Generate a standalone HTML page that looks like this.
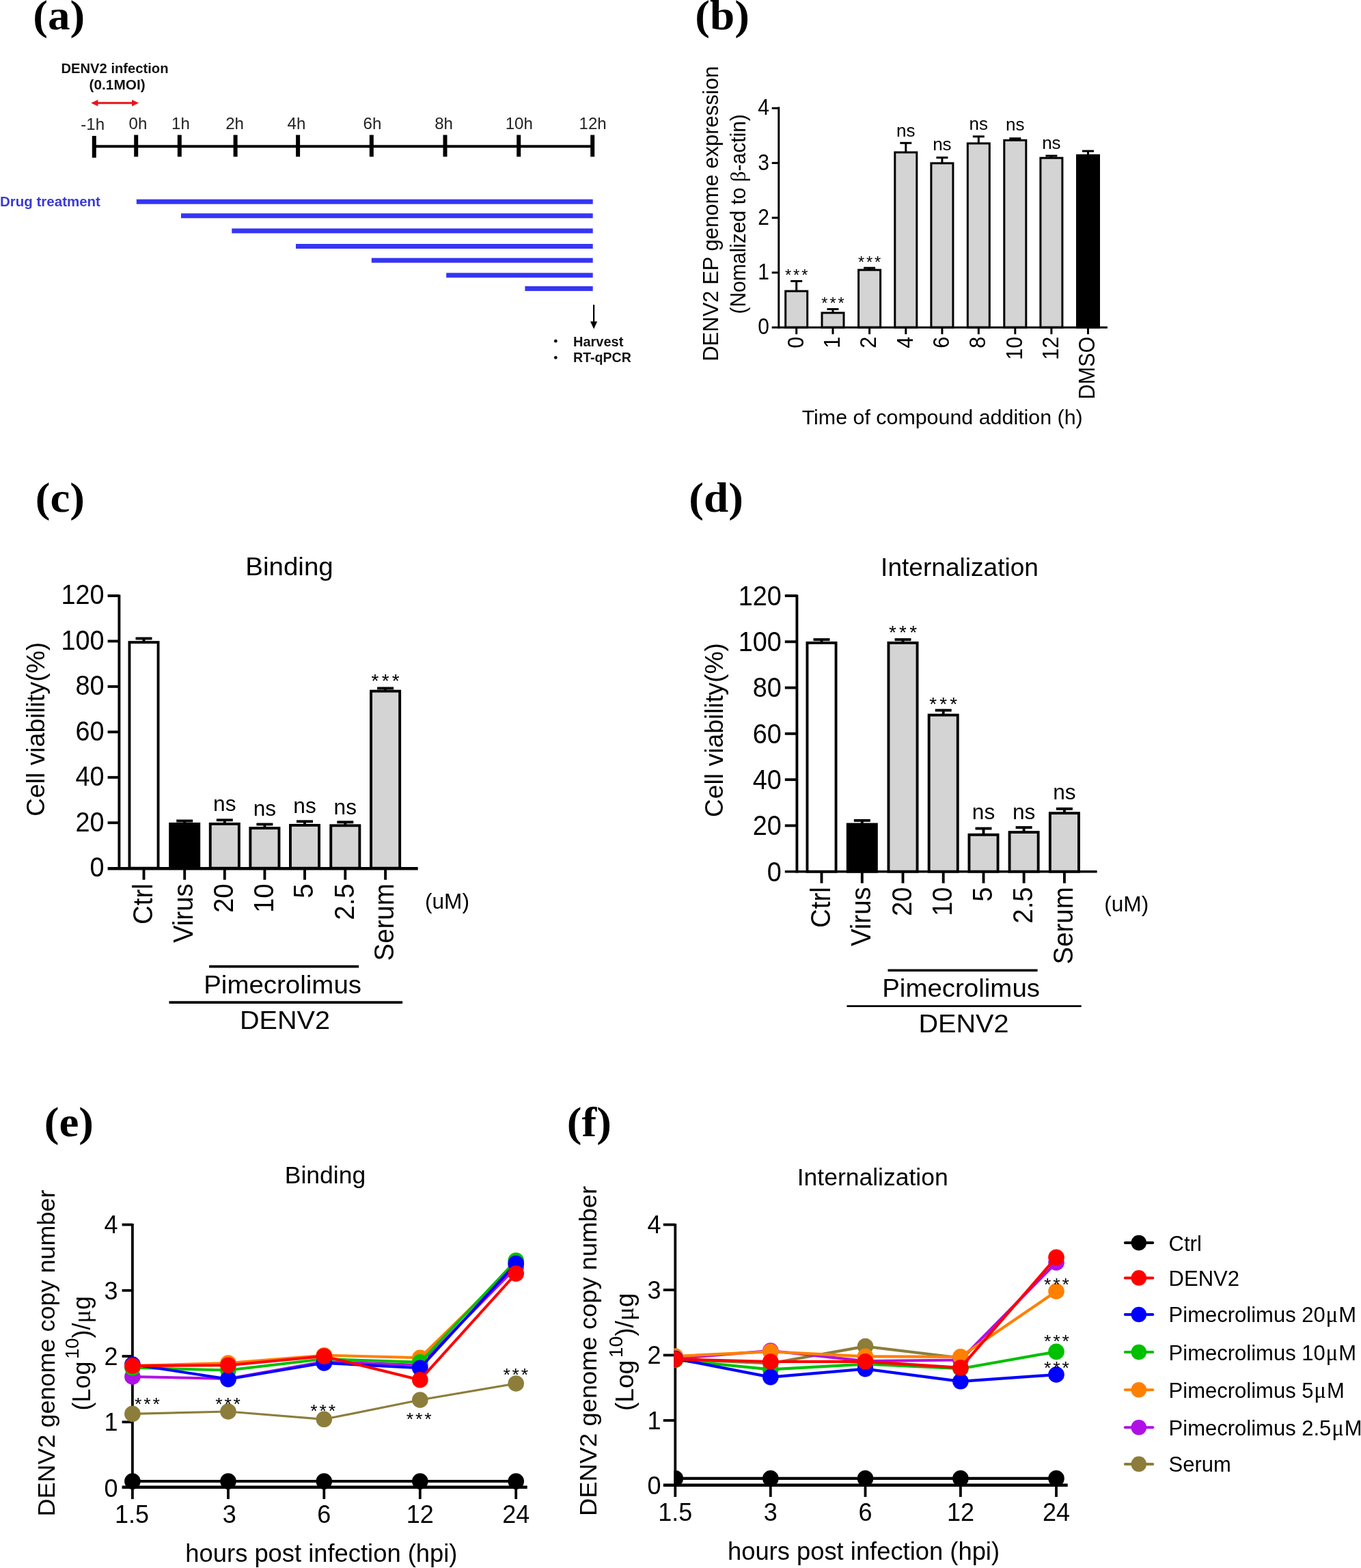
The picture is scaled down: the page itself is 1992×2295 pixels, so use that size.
<!DOCTYPE html>
<html lang="en">
<head>
<meta charset="utf-8">
<title>Pimecrolimus time-of-addition, binding and internalization assays</title>
<style>
html, body { margin: 0; padding: 0; background: #fff; }
body { width: 1992px; height: 2295px; overflow: hidden; }
svg { display: block; font-family: "Liberation Sans", sans-serif; fill: #000; }
</style>
</head>
<body>
<svg width="1992" height="2295" viewBox="0 0 1992 2295" role="img" aria-label="Six-panel figure: time-of-addition, binding and internalization assays">
<rect width="1992" height="2295" fill="#fff"/>
<g id="panel-a">
<text font-size="62" transform="translate(48.3 42.6) scale(1.05 1)" font-weight="bold" style='font-family:"Liberation Serif", serif;'>(a)</text>
<text font-size="20.2" text-anchor="middle" x="168" y="106.6" font-weight="bold" style='fill:#111;'>DENV2 infection</text>
<text font-size="20.8" text-anchor="middle" x="171.6" y="130.8" font-weight="bold" style='fill:#111;'>(0.1MOI)</text>
<line x1="140" y1="150.7" x2="197" y2="150.7" stroke="#e8141c" stroke-width="3"/>
<polygon points="133.2,150.7 143.4,146 143.4,155.4" fill="#e8141c"/>
<polygon points="203.2,150.7 193,146 193,155.4" fill="#e8141c"/>
<line x1="137.8" y1="214.3" x2="867.2" y2="214.3" stroke="#000" stroke-width="4"/>
<line x1="137.8" y1="198.9" x2="137.8" y2="230.8" stroke="#000" stroke-width="6"/>
<line x1="199.2" y1="197.5" x2="199.2" y2="229.4" stroke="#000" stroke-width="6"/>
<line x1="262.8" y1="197.5" x2="262.8" y2="229.4" stroke="#000" stroke-width="6"/>
<line x1="344.6" y1="197.5" x2="344.6" y2="229.4" stroke="#000" stroke-width="6"/>
<line x1="436.1" y1="197.5" x2="436.1" y2="229.4" stroke="#000" stroke-width="6"/>
<line x1="543.8" y1="197.5" x2="543.8" y2="229.4" stroke="#000" stroke-width="6"/>
<line x1="651.5" y1="197.5" x2="651.5" y2="229.4" stroke="#000" stroke-width="6"/>
<line x1="759.2" y1="197.5" x2="759.2" y2="229.4" stroke="#000" stroke-width="6"/>
<line x1="867.2" y1="197.5" x2="867.2" y2="229.4" stroke="#000" stroke-width="6"/>
<text font-size="23.4" text-anchor="middle" transform="translate(135.7 190.4) scale(1.03 1)" style='fill:#222;'>-1h</text>
<text font-size="23.4" text-anchor="middle" transform="translate(202 189.4) scale(1.03 1)" style='fill:#222;'>0h</text>
<text font-size="23.4" text-anchor="middle" transform="translate(264.4 189.4) scale(1.03 1)" style='fill:#222;'>1h</text>
<text font-size="23.4" text-anchor="middle" transform="translate(343.6 189.4) scale(1.03 1)" style='fill:#222;'>2h</text>
<text font-size="23.4" text-anchor="middle" transform="translate(433.9 189.4) scale(1.03 1)" style='fill:#222;'>4h</text>
<text font-size="23.4" text-anchor="middle" transform="translate(544.9 189.4) scale(1.03 1)" style='fill:#222;'>6h</text>
<text font-size="23.4" text-anchor="middle" transform="translate(649.6 189.4) scale(1.03 1)" style='fill:#222;'>8h</text>
<text font-size="23.4" text-anchor="middle" transform="translate(759.8 189.4) scale(1.03 1)" style='fill:#222;'>10h</text>
<text font-size="23.4" text-anchor="middle" transform="translate(867.6 189.4) scale(1.03 1)" style='fill:#222;'>12h</text>
<text font-size="20.5" x="0" y="301.6" font-weight="bold" style='fill:#3a3ad8;'>Drug treatment</text>
<rect x="199.8" y="291.7" width="667.9" height="7" fill="#3535f5"/>
<rect x="265" y="312.3" width="602.7" height="7" fill="#3535f5"/>
<rect x="339.3" y="334.4" width="528.4" height="7" fill="#3535f5"/>
<rect x="433" y="357" width="434.7" height="7" fill="#3535f5"/>
<rect x="543.8" y="377.6" width="323.9" height="7" fill="#3535f5"/>
<rect x="653.2" y="399.4" width="214.5" height="7" fill="#3535f5"/>
<rect x="768.4" y="418.9" width="99.3" height="7" fill="#3535f5"/>
<line x1="869.1" y1="446" x2="869.1" y2="474" stroke="#000" stroke-width="2.2"/>
<polygon points="869.1,481.6 864,470.5 874.2,470.5" fill="#000"/>
<circle cx="813.3" cy="499.2" r="2.4" fill="#111"/>
<circle cx="813.3" cy="523.4" r="2.4" fill="#111"/>
<text font-size="20" x="839" y="506.7" font-weight="bold" style='fill:#111;'>Harvest</text>
<text font-size="19.6" x="839" y="530.4" font-weight="bold" style='fill:#111;'>RT-qPCR</text>
</g>
<g id="panel-b">
<text font-size="62" transform="translate(1017.3 42.6) scale(1.05 1)" font-weight="bold" style='font-family:"Liberation Serif", serif;'>(b)</text>
<text font-size="31" text-anchor="middle" x="1051" y="312.8" transform="rotate(-90 1051 312.8)">DENV2 EP genome expression</text>
<text font-size="30" text-anchor="middle" transform="translate(1091.2 313.4) rotate(-90) scale(1 1.04)">(Nomalized to <tspan font-size="31" style='font-family:"Liberation Serif", serif'>β</tspan>-actin)</text>
<line x1="1165.7" y1="411.5" x2="1165.7" y2="426.1" stroke="#000" stroke-width="3"/>
<line x1="1157.2" y1="411.5" x2="1174.2" y2="411.5" stroke="#000" stroke-width="3"/>
<rect x="1149.7" y="426.1" width="32" height="53.1" fill="#d4d4d4" stroke="#000" stroke-width="3"/>
<line x1="1165.7" y1="479.2" x2="1165.7" y2="489.2" stroke="#000" stroke-width="3"/>
<text font-size="30.6" text-anchor="end" transform="translate(1175.5 492.8) rotate(-90) scale(1 1.1)">0</text>
<text font-size="23.6" text-anchor="middle" x="1167.15" y="410.51" style='letter-spacing:2.9px;'>***</text>
<line x1="1219" y1="452.5" x2="1219" y2="457.9" stroke="#000" stroke-width="3"/>
<line x1="1210.5" y1="452.5" x2="1227.5" y2="452.5" stroke="#000" stroke-width="3"/>
<rect x="1203" y="457.9" width="32" height="21.3" fill="#d4d4d4" stroke="#000" stroke-width="3"/>
<line x1="1219" y1="479.2" x2="1219" y2="489.2" stroke="#000" stroke-width="3"/>
<text font-size="30.6" text-anchor="end" transform="translate(1228.8 492.8) rotate(-90) scale(1 1.1)">1</text>
<text font-size="23.6" text-anchor="middle" x="1220.45" y="451.51" style='letter-spacing:2.9px;'>***</text>
<line x1="1272.6" y1="392.2" x2="1272.6" y2="395.1" stroke="#000" stroke-width="3"/>
<line x1="1264.1" y1="392.2" x2="1281.1" y2="392.2" stroke="#000" stroke-width="3"/>
<rect x="1256.6" y="395.1" width="32" height="84.1" fill="#d4d4d4" stroke="#000" stroke-width="3"/>
<line x1="1272.6" y1="479.2" x2="1272.6" y2="489.2" stroke="#000" stroke-width="3"/>
<text font-size="30.6" text-anchor="end" transform="translate(1282.4 492.8) rotate(-90) scale(1 1.1)">2</text>
<text font-size="23.6" text-anchor="middle" x="1274.05" y="391.61" style='letter-spacing:2.9px;'>***</text>
<line x1="1325.8" y1="209.3" x2="1325.8" y2="223" stroke="#000" stroke-width="3"/>
<line x1="1317.3" y1="209.3" x2="1334.3" y2="209.3" stroke="#000" stroke-width="3"/>
<rect x="1309.8" y="223" width="32" height="256.2" fill="#d4d4d4" stroke="#000" stroke-width="3"/>
<line x1="1325.8" y1="479.2" x2="1325.8" y2="489.2" stroke="#000" stroke-width="3"/>
<text font-size="30.6" text-anchor="end" transform="translate(1335.6 492.8) rotate(-90) scale(1 1.1)">4</text>
<text font-size="26" text-anchor="middle" x="1325.8" y="200">ns</text>
<line x1="1378.9" y1="230.7" x2="1378.9" y2="238.9" stroke="#000" stroke-width="3"/>
<line x1="1370.4" y1="230.7" x2="1387.4" y2="230.7" stroke="#000" stroke-width="3"/>
<rect x="1362.9" y="238.9" width="32" height="240.3" fill="#d4d4d4" stroke="#000" stroke-width="3"/>
<line x1="1378.9" y1="479.2" x2="1378.9" y2="489.2" stroke="#000" stroke-width="3"/>
<text font-size="30.6" text-anchor="end" transform="translate(1388.7 492.8) rotate(-90) scale(1 1.1)">6</text>
<text font-size="26" text-anchor="middle" x="1378.9" y="219.9">ns</text>
<line x1="1432.3" y1="199.8" x2="1432.3" y2="209.9" stroke="#000" stroke-width="3"/>
<line x1="1423.8" y1="199.8" x2="1440.8" y2="199.8" stroke="#000" stroke-width="3"/>
<rect x="1416.3" y="209.9" width="32" height="269.3" fill="#d4d4d4" stroke="#000" stroke-width="3"/>
<line x1="1432.3" y1="479.2" x2="1432.3" y2="489.2" stroke="#000" stroke-width="3"/>
<text font-size="30.6" text-anchor="end" transform="translate(1442.1 492.8) rotate(-90) scale(1 1.1)">8</text>
<text font-size="26" text-anchor="middle" x="1432.3" y="189.7">ns</text>
<line x1="1485.8" y1="202.7" x2="1485.8" y2="205.3" stroke="#000" stroke-width="3"/>
<line x1="1477.3" y1="202.7" x2="1494.3" y2="202.7" stroke="#000" stroke-width="3"/>
<rect x="1469.8" y="205.3" width="32" height="273.9" fill="#d4d4d4" stroke="#000" stroke-width="3"/>
<line x1="1485.8" y1="479.2" x2="1485.8" y2="489.2" stroke="#000" stroke-width="3"/>
<text font-size="30.6" text-anchor="end" transform="translate(1495.6 492.8) rotate(-90) scale(1 1.1)">10</text>
<text font-size="26" text-anchor="middle" x="1485.8" y="191.2">ns</text>
<line x1="1538.9" y1="228.1" x2="1538.9" y2="231.2" stroke="#000" stroke-width="3"/>
<line x1="1530.4" y1="228.1" x2="1547.4" y2="228.1" stroke="#000" stroke-width="3"/>
<rect x="1522.9" y="231.2" width="32" height="248" fill="#d4d4d4" stroke="#000" stroke-width="3"/>
<line x1="1538.9" y1="479.2" x2="1538.9" y2="489.2" stroke="#000" stroke-width="3"/>
<text font-size="30.6" text-anchor="end" transform="translate(1548.7 492.8) rotate(-90) scale(1 1.1)">12</text>
<text font-size="26" text-anchor="middle" x="1538.9" y="217.7">ns</text>
<line x1="1592.5" y1="221.1" x2="1592.5" y2="227.3" stroke="#000" stroke-width="3"/>
<line x1="1584" y1="221.1" x2="1601" y2="221.1" stroke="#000" stroke-width="3"/>
<rect x="1576.5" y="227.3" width="32" height="251.9" fill="#000" stroke="#000" stroke-width="3"/>
<line x1="1592.5" y1="479.2" x2="1592.5" y2="489.2" stroke="#000" stroke-width="3"/>
<text font-size="30.6" text-anchor="end" transform="translate(1602.3 492.8) rotate(-90) scale(1 1.1)">DMSO</text>
<line x1="1139.8" y1="156.6" x2="1139.8" y2="480.8" stroke="#000" stroke-width="3"/>
<line x1="1129.7" y1="479.2" x2="1620.9" y2="479.2" stroke="#000" stroke-width="3"/>
<text font-size="30" text-anchor="end" transform="translate(1126 489.2) scale(1 1.11)">0</text>
<line x1="1129.7" y1="399" x2="1139.8" y2="399" stroke="#000" stroke-width="3"/>
<text font-size="30" text-anchor="end" transform="translate(1126 409) scale(1 1.11)">1</text>
<line x1="1129.7" y1="318.8" x2="1139.8" y2="318.8" stroke="#000" stroke-width="3"/>
<text font-size="30" text-anchor="end" transform="translate(1126 328.8) scale(1 1.11)">2</text>
<line x1="1129.7" y1="238.6" x2="1139.8" y2="238.6" stroke="#000" stroke-width="3"/>
<text font-size="30" text-anchor="end" transform="translate(1126 248.6) scale(1 1.11)">3</text>
<line x1="1129.7" y1="158.4" x2="1139.8" y2="158.4" stroke="#000" stroke-width="3"/>
<text font-size="30" text-anchor="end" transform="translate(1126 168.4) scale(1 1.11)">4</text>
<text font-size="30.4" text-anchor="middle" x="1379.2" y="620.6">Time of compound addition (h)</text>
</g>
<g id="panel-c">
<text font-size="62" transform="translate(51.8 748.6) scale(1.05 1)" font-weight="bold" style='font-family:"Liberation Serif", serif;'>(c)</text>
<text font-size="36" text-anchor="middle" transform="translate(423.5 841.8) scale(1.07 1)">Binding</text>
<text font-size="37" text-anchor="middle" transform="translate(65.4 1067.4) rotate(-90) scale(1.01 1)">Cell viability(%)</text>
<line x1="210.5" y1="934.5" x2="210.5" y2="940.1" stroke="#000" stroke-width="3.9"/>
<line x1="198.5" y1="934.5" x2="222.5" y2="934.5" stroke="#000" stroke-width="3.9"/>
<rect x="189.45" y="940.1" width="42.1" height="330.6" fill="#fff" stroke="#000" stroke-width="3.9"/>
<line x1="210.5" y1="1270.7" x2="210.5" y2="1287.7" stroke="#000" stroke-width="3.9"/>
<text font-size="38.4" text-anchor="end" transform="translate(222.7 1293.3) rotate(-90) scale(1 1.05)">Ctrl</text>
<line x1="270.2" y1="1201.5" x2="270.2" y2="1205.9" stroke="#000" stroke-width="3.9"/>
<line x1="258.2" y1="1201.5" x2="282.2" y2="1201.5" stroke="#000" stroke-width="3.9"/>
<rect x="249.15" y="1205.9" width="42.1" height="64.8" fill="#000" stroke="#000" stroke-width="3.9"/>
<line x1="270.2" y1="1270.7" x2="270.2" y2="1287.7" stroke="#000" stroke-width="3.9"/>
<text font-size="38.4" text-anchor="end" transform="translate(282.4 1293.3) rotate(-90) scale(1 1.05)">Virus</text>
<line x1="328.8" y1="1200.3" x2="328.8" y2="1205.9" stroke="#000" stroke-width="3.9"/>
<line x1="316.8" y1="1200.3" x2="340.8" y2="1200.3" stroke="#000" stroke-width="3.9"/>
<rect x="307.75" y="1205.9" width="42.1" height="64.8" fill="#d4d4d4" stroke="#000" stroke-width="3.9"/>
<line x1="328.8" y1="1270.7" x2="328.8" y2="1287.7" stroke="#000" stroke-width="3.9"/>
<text font-size="38.4" text-anchor="end" transform="translate(341 1293.3) rotate(-90) scale(1 1.05)">20</text>
<text font-size="31" text-anchor="middle" transform="translate(328.8 1187) scale(1.02 1)">ns</text>
<line x1="387.4" y1="1206.5" x2="387.4" y2="1212.1" stroke="#000" stroke-width="3.9"/>
<line x1="375.4" y1="1206.5" x2="399.4" y2="1206.5" stroke="#000" stroke-width="3.9"/>
<rect x="366.35" y="1212.1" width="42.1" height="58.6" fill="#d4d4d4" stroke="#000" stroke-width="3.9"/>
<line x1="387.4" y1="1270.7" x2="387.4" y2="1287.7" stroke="#000" stroke-width="3.9"/>
<text font-size="38.4" text-anchor="end" transform="translate(399.6 1293.3) rotate(-90) scale(1 1.05)">10</text>
<text font-size="31" text-anchor="middle" transform="translate(387.4 1193.9) scale(1.02 1)">ns</text>
<line x1="446" y1="1202.3" x2="446" y2="1207.9" stroke="#000" stroke-width="3.9"/>
<line x1="434" y1="1202.3" x2="458" y2="1202.3" stroke="#000" stroke-width="3.9"/>
<rect x="424.95" y="1207.9" width="42.1" height="62.8" fill="#d4d4d4" stroke="#000" stroke-width="3.9"/>
<line x1="446" y1="1270.7" x2="446" y2="1287.7" stroke="#000" stroke-width="3.9"/>
<text font-size="38.4" text-anchor="end" transform="translate(458.2 1293.3) rotate(-90) scale(1 1.05)">5</text>
<text font-size="31" text-anchor="middle" transform="translate(446 1189.7) scale(1.02 1)">ns</text>
<line x1="505.3" y1="1203.3" x2="505.3" y2="1208.3" stroke="#000" stroke-width="3.9"/>
<line x1="493.3" y1="1203.3" x2="517.3" y2="1203.3" stroke="#000" stroke-width="3.9"/>
<rect x="484.25" y="1208.3" width="42.1" height="62.4" fill="#d4d4d4" stroke="#000" stroke-width="3.9"/>
<line x1="505.3" y1="1270.7" x2="505.3" y2="1287.7" stroke="#000" stroke-width="3.9"/>
<text font-size="38.4" text-anchor="end" transform="translate(517.5 1293.3) rotate(-90) scale(1 1.05)">2.5</text>
<text font-size="31" text-anchor="middle" transform="translate(505.3 1191.6) scale(1.02 1)">ns</text>
<line x1="564.1" y1="1007.4" x2="564.1" y2="1011.6" stroke="#000" stroke-width="3.9"/>
<line x1="552.1" y1="1007.4" x2="576.1" y2="1007.4" stroke="#000" stroke-width="3.9"/>
<rect x="543.05" y="1011.6" width="42.1" height="259.1" fill="#d4d4d4" stroke="#000" stroke-width="3.9"/>
<line x1="564.1" y1="1270.7" x2="564.1" y2="1287.7" stroke="#000" stroke-width="3.9"/>
<text font-size="38.4" text-anchor="end" transform="translate(576.3 1293.3) rotate(-90) scale(1 1.05)">Serum</text>
<text font-size="28" text-anchor="middle" x="566.2" y="1005.86" style='letter-spacing:4.2px;'>***</text>
<line x1="174.4" y1="870.4" x2="174.4" y2="1272.5" stroke="#000" stroke-width="3.9"/>
<line x1="157.6" y1="1271.2" x2="611.7" y2="1271.2" stroke="#000" stroke-width="4.4"/>
<text font-size="39" text-anchor="end" transform="translate(152.6 1283.1) scale(0.97 1.03)">0</text>
<line x1="157.6" y1="1204.25" x2="174.4" y2="1204.25" stroke="#000" stroke-width="3.9"/>
<text font-size="39" text-anchor="end" transform="translate(152.6 1216.65) scale(0.97 1.03)">20</text>
<line x1="157.6" y1="1137.8" x2="174.4" y2="1137.8" stroke="#000" stroke-width="3.9"/>
<text font-size="39" text-anchor="end" transform="translate(152.6 1150.2) scale(0.97 1.03)">40</text>
<line x1="157.6" y1="1071.35" x2="174.4" y2="1071.35" stroke="#000" stroke-width="3.9"/>
<text font-size="39" text-anchor="end" transform="translate(152.6 1083.75) scale(0.97 1.03)">60</text>
<line x1="157.6" y1="1004.9" x2="174.4" y2="1004.9" stroke="#000" stroke-width="3.9"/>
<text font-size="39" text-anchor="end" transform="translate(152.6 1017.3) scale(0.97 1.03)">80</text>
<line x1="157.6" y1="938.45" x2="174.4" y2="938.45" stroke="#000" stroke-width="3.9"/>
<text font-size="39" text-anchor="end" transform="translate(152.6 950.85) scale(0.97 1.03)">100</text>
<line x1="157.6" y1="872" x2="174.4" y2="872" stroke="#000" stroke-width="3.9"/>
<text font-size="39" text-anchor="end" transform="translate(152.6 884.4) scale(0.97 1.03)">120</text>
<text font-size="31" transform="translate(622 1329.6) scale(1.02 1)">(uM)</text>
<line x1="306.1" y1="1414.6" x2="525.2" y2="1414.6" stroke="#000" stroke-width="3.6"/>
<text font-size="37" text-anchor="middle" transform="translate(413.6 1453.7) scale(1.04 1)">Pimecrolimus</text>
<line x1="247.5" y1="1467.1" x2="589.1" y2="1467.1" stroke="#000" stroke-width="3.6"/>
<text font-size="37" text-anchor="middle" transform="translate(417 1506.1) scale(1.07 1)">DENV2</text>
</g>
<g id="panel-d">
<text font-size="62" transform="translate(1008.3 748.6) scale(1.05 1)" font-weight="bold" style='font-family:"Liberation Serif", serif;'>(d)</text>
<text font-size="36" text-anchor="middle" transform="translate(1404.5 843.2) scale(1.03 1)">Internalization</text>
<text font-size="37" text-anchor="middle" transform="translate(1057.8 1068.6) rotate(-90) scale(1.01 1)">Cell viability(%)</text>
<line x1="1202.5" y1="936.1" x2="1202.5" y2="940.9" stroke="#000" stroke-width="3.9"/>
<line x1="1190.5" y1="936.1" x2="1214.5" y2="936.1" stroke="#000" stroke-width="3.9"/>
<rect x="1181.45" y="940.9" width="42.1" height="334.8" fill="#fff" stroke="#000" stroke-width="3.9"/>
<line x1="1202.5" y1="1275.7" x2="1202.5" y2="1292.7" stroke="#000" stroke-width="3.9"/>
<text font-size="38.4" text-anchor="end" transform="translate(1214.7 1298.3) rotate(-90) scale(1 1.05)">Ctrl</text>
<line x1="1261.8" y1="1200.9" x2="1261.8" y2="1206.5" stroke="#000" stroke-width="3.9"/>
<line x1="1249.8" y1="1200.9" x2="1273.8" y2="1200.9" stroke="#000" stroke-width="3.9"/>
<rect x="1240.75" y="1206.5" width="42.1" height="69.2" fill="#000" stroke="#000" stroke-width="3.9"/>
<line x1="1261.8" y1="1275.7" x2="1261.8" y2="1292.7" stroke="#000" stroke-width="3.9"/>
<text font-size="38.4" text-anchor="end" transform="translate(1274 1298.3) rotate(-90) scale(1 1.05)">Virus</text>
<line x1="1321.5" y1="936.1" x2="1321.5" y2="940.9" stroke="#000" stroke-width="3.9"/>
<line x1="1309.5" y1="936.1" x2="1333.5" y2="936.1" stroke="#000" stroke-width="3.9"/>
<rect x="1300.45" y="940.9" width="42.1" height="334.8" fill="#d4d4d4" stroke="#000" stroke-width="3.9"/>
<line x1="1321.5" y1="1275.7" x2="1321.5" y2="1292.7" stroke="#000" stroke-width="3.9"/>
<text font-size="38.4" text-anchor="end" transform="translate(1333.7 1298.3) rotate(-90) scale(1 1.05)">20</text>
<text font-size="28" text-anchor="middle" x="1323.6" y="934.56" style='letter-spacing:4.2px;'>***</text>
<line x1="1380.7" y1="1039.6" x2="1380.7" y2="1046.6" stroke="#000" stroke-width="3.9"/>
<line x1="1368.7" y1="1039.6" x2="1392.7" y2="1039.6" stroke="#000" stroke-width="3.9"/>
<rect x="1359.65" y="1046.6" width="42.1" height="229.1" fill="#d4d4d4" stroke="#000" stroke-width="3.9"/>
<line x1="1380.7" y1="1275.7" x2="1380.7" y2="1292.7" stroke="#000" stroke-width="3.9"/>
<text font-size="38.4" text-anchor="end" transform="translate(1392.9 1298.3) rotate(-90) scale(1 1.05)">10</text>
<text font-size="28" text-anchor="middle" x="1382.8" y="1040.06" style='letter-spacing:4.2px;'>***</text>
<line x1="1439.5" y1="1212.6" x2="1439.5" y2="1221.8" stroke="#000" stroke-width="3.9"/>
<line x1="1427.5" y1="1212.6" x2="1451.5" y2="1212.6" stroke="#000" stroke-width="3.9"/>
<rect x="1418.45" y="1221.8" width="42.1" height="53.9" fill="#d4d4d4" stroke="#000" stroke-width="3.9"/>
<line x1="1439.5" y1="1275.7" x2="1439.5" y2="1292.7" stroke="#000" stroke-width="3.9"/>
<text font-size="38.4" text-anchor="end" transform="translate(1451.7 1298.3) rotate(-90) scale(1 1.05)">5</text>
<text font-size="31" text-anchor="middle" transform="translate(1439.5 1198.7) scale(1.02 1)">ns</text>
<line x1="1498.6" y1="1211.1" x2="1498.6" y2="1218.1" stroke="#000" stroke-width="3.9"/>
<line x1="1486.6" y1="1211.1" x2="1510.6" y2="1211.1" stroke="#000" stroke-width="3.9"/>
<rect x="1477.55" y="1218.1" width="42.1" height="57.6" fill="#d4d4d4" stroke="#000" stroke-width="3.9"/>
<line x1="1498.6" y1="1275.7" x2="1498.6" y2="1292.7" stroke="#000" stroke-width="3.9"/>
<text font-size="38.4" text-anchor="end" transform="translate(1510.8 1298.3) rotate(-90) scale(1 1.05)">2.5</text>
<text font-size="31" text-anchor="middle" transform="translate(1498.6 1198.6) scale(1.02 1)">ns</text>
<line x1="1557.9" y1="1183.8" x2="1557.9" y2="1190.2" stroke="#000" stroke-width="3.9"/>
<line x1="1545.9" y1="1183.8" x2="1569.9" y2="1183.8" stroke="#000" stroke-width="3.9"/>
<rect x="1536.85" y="1190.2" width="42.1" height="85.5" fill="#d4d4d4" stroke="#000" stroke-width="3.9"/>
<line x1="1557.9" y1="1275.7" x2="1557.9" y2="1292.7" stroke="#000" stroke-width="3.9"/>
<text font-size="38.4" text-anchor="end" transform="translate(1570.1 1298.3) rotate(-90) scale(1 1.05)">Serum</text>
<text font-size="31" text-anchor="middle" transform="translate(1557.9 1170.1) scale(1.02 1)">ns</text>
<line x1="1166.4" y1="870.4" x2="1166.4" y2="1277.5" stroke="#000" stroke-width="3.9"/>
<line x1="1148.8" y1="1275.7" x2="1605.6" y2="1275.7" stroke="#000" stroke-width="3.6"/>
<text font-size="39" text-anchor="end" transform="translate(1143.8 1289.6) scale(0.97 1.03)">0</text>
<line x1="1148.8" y1="1208.42" x2="1166.4" y2="1208.42" stroke="#000" stroke-width="3.9"/>
<text font-size="39" text-anchor="end" transform="translate(1143.8 1222.32) scale(0.97 1.03)">20</text>
<line x1="1148.8" y1="1141.13" x2="1166.4" y2="1141.13" stroke="#000" stroke-width="3.9"/>
<text font-size="39" text-anchor="end" transform="translate(1143.8 1155.03) scale(0.97 1.03)">40</text>
<line x1="1148.8" y1="1073.85" x2="1166.4" y2="1073.85" stroke="#000" stroke-width="3.9"/>
<text font-size="39" text-anchor="end" transform="translate(1143.8 1087.75) scale(0.97 1.03)">60</text>
<line x1="1148.8" y1="1006.57" x2="1166.4" y2="1006.57" stroke="#000" stroke-width="3.9"/>
<text font-size="39" text-anchor="end" transform="translate(1143.8 1020.47) scale(0.97 1.03)">80</text>
<line x1="1148.8" y1="939.28" x2="1166.4" y2="939.28" stroke="#000" stroke-width="3.9"/>
<text font-size="39" text-anchor="end" transform="translate(1143.8 953.18) scale(0.97 1.03)">100</text>
<line x1="1148.8" y1="872" x2="1166.4" y2="872" stroke="#000" stroke-width="3.9"/>
<text font-size="39" text-anchor="end" transform="translate(1143.8 885.9) scale(0.97 1.03)">120</text>
<text font-size="31" transform="translate(1616.2 1334.4) scale(1.02 1)">(uM)</text>
<line x1="1299.5" y1="1420.2" x2="1518.6" y2="1420.2" stroke="#000" stroke-width="3.6"/>
<text font-size="37" text-anchor="middle" transform="translate(1406.6 1459.3) scale(1.04 1)">Pimecrolimus</text>
<line x1="1239.5" y1="1472.7" x2="1582.7" y2="1472.7" stroke="#000" stroke-width="2.8"/>
<text font-size="37" text-anchor="middle" transform="translate(1410.5 1511.4) scale(1.07 1)">DENV2</text>
</g>
<g id="panel-e">
<text font-size="62" transform="translate(64.8 1663) scale(1.05 1)" font-weight="bold" style='font-family:"Liberation Serif", serif;'>(e)</text>
<text font-size="35.5" text-anchor="middle" x="476" y="1731.5">Binding</text>
<text font-size="36" text-anchor="middle" transform="translate(79.5 1980.5) rotate(-90) scale(1 0.96)">DENV2 genome copy number</text>
<text font-size="36" text-anchor="middle" transform="translate(131.6 1980.8) rotate(-90) scale(1 1.02)">(Log<tspan font-size="27.5" dx="3.5" dy="-16.5">10</tspan><tspan dy="16.5">)/</tspan><tspan style='font-family:"Liberation Serif", serif'>μ</tspan>g</text>
<line x1="193.9" y1="1790.9" x2="193.9" y2="2179.4" stroke="#000" stroke-width="3.8"/>
<line x1="178.6" y1="2176.8" x2="771.7" y2="2176.8" stroke="#000" stroke-width="4.4"/>
<line x1="178.6" y1="2081.32" x2="193.9" y2="2081.32" stroke="#000" stroke-width="3.8"/>
<line x1="178.6" y1="1985.05" x2="193.9" y2="1985.05" stroke="#000" stroke-width="3.8"/>
<line x1="178.6" y1="1888.78" x2="193.9" y2="1888.78" stroke="#000" stroke-width="3.8"/>
<line x1="178.6" y1="1792.5" x2="193.9" y2="1792.5" stroke="#000" stroke-width="3.8"/>
<text font-size="36" text-anchor="end" transform="translate(172.4 2190.5) scale(1 1.05)">0</text>
<text font-size="36" text-anchor="end" transform="translate(172.4 2094.22) scale(1 1.05)">1</text>
<text font-size="36" text-anchor="end" transform="translate(172.4 1997.95) scale(1 1.05)">2</text>
<text font-size="36" text-anchor="end" transform="translate(172.4 1901.68) scale(1 1.05)">3</text>
<text font-size="36" text-anchor="end" transform="translate(172.4 1805.4) scale(1 1.05)">4</text>
<line x1="193.9" y1="2177.6" x2="193.9" y2="2194.1" stroke="#000" stroke-width="3.8"/>
<text font-size="36" text-anchor="middle" transform="translate(193.1 2229.4) scale(1 1.05)">1.5</text>
<line x1="334" y1="2177.6" x2="334" y2="2194.1" stroke="#000" stroke-width="3.8"/>
<text font-size="36" text-anchor="middle" transform="translate(335.7 2229.4) scale(1 1.05)">3</text>
<line x1="474.3" y1="2177.6" x2="474.3" y2="2194.1" stroke="#000" stroke-width="3.8"/>
<text font-size="36" text-anchor="middle" transform="translate(474.3 2229.4) scale(1 1.05)">6</text>
<line x1="614.8" y1="2177.6" x2="614.8" y2="2194.1" stroke="#000" stroke-width="3.8"/>
<text font-size="36" text-anchor="middle" transform="translate(614.8 2229.4) scale(1 1.05)">12</text>
<line x1="755.2" y1="2177.6" x2="755.2" y2="2194.1" stroke="#000" stroke-width="3.8"/>
<text font-size="36" text-anchor="middle" transform="translate(755.2 2229.4) scale(1 1.05)">24</text>
<text font-size="36" text-anchor="middle" transform="translate(470.4 2285.6) scale(1.01 1)">hours post infection (hpi)</text>
<polyline points="193.9,2069.4 334,2066 474.3,2077.3 614.8,2049 755.2,2025" fill="none" stroke="#8c7d3a" stroke-width="3.2" stroke-linejoin="round"/>
<circle cx="193.9" cy="2069.4" r="11.8" fill="#8c7d3a"/>
<circle cx="334" cy="2066" r="11.8" fill="#8c7d3a"/>
<circle cx="474.3" cy="2077.3" r="11.8" fill="#8c7d3a"/>
<circle cx="614.8" cy="2049" r="11.8" fill="#8c7d3a"/>
<circle cx="755.2" cy="2025" r="11.8" fill="#8c7d3a"/>
<polyline points="193.9,2015 334,2018 474.3,1993 614.8,1998 755.2,1855" fill="none" stroke="#b010e6" stroke-width="4" stroke-linejoin="round"/>
<circle cx="193.9" cy="2015" r="11.8" fill="#b010e6"/>
<circle cx="334" cy="2018" r="11.8" fill="#b010e6"/>
<circle cx="474.3" cy="1993" r="11.8" fill="#b010e6"/>
<circle cx="614.8" cy="1998" r="11.8" fill="#b010e6"/>
<circle cx="755.2" cy="1855" r="11.8" fill="#b010e6"/>
<polyline points="193.9,1999 334,1995 474.3,1983.7 614.8,1987.3 755.2,1850" fill="none" stroke="#ff8000" stroke-width="4" stroke-linejoin="round"/>
<circle cx="193.9" cy="1999" r="11.8" fill="#ff8000"/>
<circle cx="334" cy="1995" r="11.8" fill="#ff8000"/>
<circle cx="474.3" cy="1983.7" r="11.8" fill="#ff8000"/>
<circle cx="614.8" cy="1987.3" r="11.8" fill="#ff8000"/>
<circle cx="755.2" cy="1850" r="11.8" fill="#ff8000"/>
<polyline points="193.9,2001.8 334,2005.5 474.3,1989 614.8,1993.8 755.2,1845" fill="none" stroke="#00c000" stroke-width="4" stroke-linejoin="round"/>
<circle cx="193.9" cy="2001.8" r="11.8" fill="#00c000"/>
<circle cx="334" cy="2005.5" r="11.8" fill="#00c000"/>
<circle cx="474.3" cy="1989" r="11.8" fill="#00c000"/>
<circle cx="614.8" cy="1993.8" r="11.8" fill="#00c000"/>
<circle cx="755.2" cy="1845" r="11.8" fill="#00c000"/>
<polyline points="193.9,1997 334,2018.6 474.3,1994.9 614.8,2002.3 755.2,1849.3" fill="none" stroke="#0000ff" stroke-width="4" stroke-linejoin="round"/>
<circle cx="193.9" cy="1997" r="11.8" fill="#0000ff"/>
<circle cx="334" cy="2018.6" r="11.8" fill="#0000ff"/>
<circle cx="474.3" cy="1994.9" r="11.8" fill="#0000ff"/>
<circle cx="614.8" cy="2002.3" r="11.8" fill="#0000ff"/>
<circle cx="755.2" cy="1849.3" r="11.8" fill="#0000ff"/>
<polyline points="193.9,1999 334,1998.2 474.3,1985.1 614.8,2019.7 755.2,1864.1" fill="none" stroke="#ff0000" stroke-width="4" stroke-linejoin="round"/>
<circle cx="193.9" cy="1999" r="11.8" fill="#ff0000"/>
<circle cx="334" cy="1998.2" r="11.8" fill="#ff0000"/>
<circle cx="474.3" cy="1985.1" r="11.8" fill="#ff0000"/>
<circle cx="614.8" cy="2019.7" r="11.8" fill="#ff0000"/>
<circle cx="755.2" cy="1864.1" r="11.8" fill="#ff0000"/>
<polyline points="193.9,2168.1 334,2168.1 474.3,2168.1 614.8,2168.1 755.2,2168.1" fill="none" stroke="#000000" stroke-width="4" stroke-linejoin="round"/>
<circle cx="193.9" cy="2168.1" r="11.8" fill="#000000"/>
<circle cx="334" cy="2168.1" r="11.8" fill="#000000"/>
<circle cx="474.3" cy="2168.1" r="11.8" fill="#000000"/>
<circle cx="614.8" cy="2168.1" r="11.8" fill="#000000"/>
<circle cx="755.2" cy="2168.1" r="11.8" fill="#000000"/>
<text font-size="26.7" text-anchor="middle" x="216.9" y="2064.1" style='letter-spacing:2.8px;'>***</text>
<text font-size="26.7" text-anchor="middle" x="335" y="2064.1" style='letter-spacing:2.8px;'>***</text>
<text font-size="26.7" text-anchor="middle" x="474.1" y="2074.3" style='letter-spacing:2.8px;'>***</text>
<text font-size="26.7" text-anchor="middle" x="614.6" y="2085.9" style='letter-spacing:2.8px;'>***</text>
<text font-size="26.7" text-anchor="middle" x="756.2" y="2020.7" style='letter-spacing:2.8px;'>***</text>
</g>
<g id="panel-f">
<text font-size="62" transform="translate(829.8 1663) scale(1.05 1)" font-weight="bold" style='font-family:"Liberation Serif", serif;'>(f)</text>
<text font-size="35.5" text-anchor="middle" x="1277.2" y="1735">Internalization</text>
<text font-size="36" text-anchor="middle" transform="translate(873.1 1977.4) rotate(-90) scale(1.01 0.96)">DENV2 genome copy number</text>
<text font-size="36" text-anchor="middle" transform="translate(927.4 1978.8) rotate(-90) scale(1.03 1.02)">(Log<tspan font-size="27.5" dx="3.5" dy="-16.5">10</tspan><tspan dy="16.5">)/</tspan><tspan style='font-family:"Liberation Serif", serif'>μ</tspan>g</text>
<line x1="988.3" y1="1790.9" x2="988.3" y2="2176.3" stroke="#000" stroke-width="3.8"/>
<line x1="970.8" y1="2173.7" x2="1562.7" y2="2173.7" stroke="#000" stroke-width="4.4"/>
<line x1="970.8" y1="2079" x2="988.3" y2="2079" stroke="#000" stroke-width="3.8"/>
<line x1="970.8" y1="1983.5" x2="988.3" y2="1983.5" stroke="#000" stroke-width="3.8"/>
<line x1="970.8" y1="1888" x2="988.3" y2="1888" stroke="#000" stroke-width="3.8"/>
<line x1="970.8" y1="1792.5" x2="988.3" y2="1792.5" stroke="#000" stroke-width="3.8"/>
<text font-size="36" text-anchor="end" transform="translate(967.4 2187.4) scale(1 1.05)">0</text>
<text font-size="36" text-anchor="end" transform="translate(967.4 2091.9) scale(1 1.05)">1</text>
<text font-size="36" text-anchor="end" transform="translate(967.4 1996.4) scale(1 1.05)">2</text>
<text font-size="36" text-anchor="end" transform="translate(967.4 1900.9) scale(1 1.05)">3</text>
<text font-size="36" text-anchor="end" transform="translate(967.4 1805.4) scale(1 1.05)">4</text>
<line x1="988.3" y1="2174.5" x2="988.3" y2="2191" stroke="#000" stroke-width="3.8"/>
<text font-size="36" text-anchor="middle" transform="translate(988.3 2226.4) scale(1 1.05)">1.5</text>
<line x1="1127.8" y1="2174.5" x2="1127.8" y2="2191" stroke="#000" stroke-width="3.8"/>
<text font-size="36" text-anchor="middle" transform="translate(1127.8 2226.4) scale(1 1.05)">3</text>
<line x1="1266.5" y1="2174.5" x2="1266.5" y2="2191" stroke="#000" stroke-width="3.8"/>
<text font-size="36" text-anchor="middle" transform="translate(1266.5 2226.4) scale(1 1.05)">6</text>
<line x1="1405.9" y1="2174.5" x2="1405.9" y2="2191" stroke="#000" stroke-width="3.8"/>
<text font-size="36" text-anchor="middle" transform="translate(1405.9 2226.4) scale(1 1.05)">12</text>
<line x1="1546" y1="2174.5" x2="1546" y2="2191" stroke="#000" stroke-width="3.8"/>
<text font-size="36" text-anchor="middle" transform="translate(1546 2226.4) scale(1 1.05)">24</text>
<text font-size="36" text-anchor="middle" transform="translate(1264 2282.7) scale(1.01 1)">hours post infection (hpi)</text>
<clipPath id="clip-panel-f"><rect x="986.4" y="1752.5" width="700" height="442"/></clipPath>
<g clip-path="url(#clip-panel-f)">
<polyline points="988.3,1989.5 1127.8,1995.5 1266.5,1970.6 1405.9,1987.5" fill="none" stroke="#8c7d3a" stroke-width="4.2" stroke-linejoin="round"/>
<circle cx="988.3" cy="1989.5" r="11.8" fill="#8c7d3a"/>
<circle cx="1127.8" cy="1995.5" r="11.8" fill="#8c7d3a"/>
<circle cx="1266.5" cy="1970.6" r="11.8" fill="#8c7d3a"/>
<circle cx="1405.9" cy="1987.5" r="11.8" fill="#8c7d3a"/>
<polyline points="988.3,1988.5 1127.8,1977 1266.5,1992.2 1405.9,1990.5 1546,1848" fill="none" stroke="#b010e6" stroke-width="4.2" stroke-linejoin="round"/>
<circle cx="988.3" cy="1988.5" r="11.8" fill="#b010e6"/>
<circle cx="1127.8" cy="1977" r="11.8" fill="#b010e6"/>
<circle cx="1266.5" cy="1992.2" r="11.8" fill="#b010e6"/>
<circle cx="1405.9" cy="1990.5" r="11.8" fill="#b010e6"/>
<circle cx="1546" cy="1848" r="11.8" fill="#b010e6"/>
<polyline points="988.3,1985 1127.8,1978.4 1266.5,1985.4 1405.9,1985.8 1546,1890" fill="none" stroke="#ff8000" stroke-width="4.2" stroke-linejoin="round"/>
<circle cx="988.3" cy="1985" r="11.8" fill="#ff8000"/>
<circle cx="1127.8" cy="1978.4" r="11.8" fill="#ff8000"/>
<circle cx="1266.5" cy="1985.4" r="11.8" fill="#ff8000"/>
<circle cx="1405.9" cy="1985.8" r="11.8" fill="#ff8000"/>
<circle cx="1546" cy="1890" r="11.8" fill="#ff8000"/>
<polyline points="988.3,1990.5 1127.8,2004.4 1266.5,1996.6 1405.9,2003.2 1546,1978.4" fill="none" stroke="#00c000" stroke-width="4.2" stroke-linejoin="round"/>
<circle cx="988.3" cy="1990.5" r="11.8" fill="#00c000"/>
<circle cx="1127.8" cy="2004.4" r="11.8" fill="#00c000"/>
<circle cx="1266.5" cy="1996.6" r="11.8" fill="#00c000"/>
<circle cx="1405.9" cy="2003.2" r="11.8" fill="#00c000"/>
<circle cx="1546" cy="1978.4" r="11.8" fill="#00c000"/>
<polyline points="988.3,1988.5 1127.8,2015.6 1266.5,2003.6 1405.9,2021.8 1546,2012" fill="none" stroke="#0000ff" stroke-width="4.2" stroke-linejoin="round"/>
<circle cx="988.3" cy="1988.5" r="11.8" fill="#0000ff"/>
<circle cx="1127.8" cy="2015.6" r="11.8" fill="#0000ff"/>
<circle cx="1266.5" cy="2003.6" r="11.8" fill="#0000ff"/>
<circle cx="1405.9" cy="2021.8" r="11.8" fill="#0000ff"/>
<circle cx="1546" cy="2012" r="11.8" fill="#0000ff"/>
<polyline points="988.3,1989.5 1127.8,1993 1266.5,1992.8 1405.9,2001.8 1546,1840.3" fill="none" stroke="#ff0000" stroke-width="4.2" stroke-linejoin="round"/>
<circle cx="988.3" cy="1989.5" r="11.8" fill="#ff0000"/>
<circle cx="1127.8" cy="1993" r="11.8" fill="#ff0000"/>
<circle cx="1266.5" cy="1992.8" r="11.8" fill="#ff0000"/>
<circle cx="1405.9" cy="2001.8" r="11.8" fill="#ff0000"/>
<circle cx="1546" cy="1840.3" r="11.8" fill="#ff0000"/>
<polyline points="988.3,2163.9 1127.8,2163.9 1266.5,2163.9 1405.9,2163.9 1546,2163.9" fill="none" stroke="#000000" stroke-width="4.2" stroke-linejoin="round"/>
<circle cx="988.3" cy="2163.9" r="11.8" fill="#000000"/>
<circle cx="1127.8" cy="2163.9" r="11.8" fill="#000000"/>
<circle cx="1266.5" cy="2163.9" r="11.8" fill="#000000"/>
<circle cx="1405.9" cy="2163.9" r="11.8" fill="#000000"/>
<circle cx="1546" cy="2163.9" r="11.8" fill="#000000"/>
</g>
<text font-size="26.7" text-anchor="middle" x="1547.8" y="1888.5" style='letter-spacing:2.8px;'>***</text>
<text font-size="26.7" text-anchor="middle" x="1547.8" y="1972.2" style='letter-spacing:2.8px;'>***</text>
<text font-size="26.7" text-anchor="middle" x="1547.8" y="2010.8" style='letter-spacing:2.8px;'>***</text>
</g>
<g id="legend">
<line x1="1646.8" y1="1819.1" x2="1687.2" y2="1819.1" stroke="#000000" stroke-width="4" stroke-linecap="round"/>
<circle cx="1666.8" cy="1819.1" r="11.3" fill="#000000"/>
<text font-size="31" transform="translate(1710.6 1830.5) scale(1 1)">Ctrl</text>
<line x1="1646.8" y1="1870.4" x2="1687.2" y2="1870.4" stroke="#ff0000" stroke-width="4" stroke-linecap="round"/>
<circle cx="1666.8" cy="1870.4" r="11.3" fill="#ff0000"/>
<text font-size="31" transform="translate(1710.6 1881.8) scale(1 1)">DENV2</text>
<line x1="1646.8" y1="1924" x2="1687.2" y2="1924" stroke="#0000ff" stroke-width="4" stroke-linecap="round"/>
<circle cx="1666.8" cy="1924" r="11.3" fill="#0000ff"/>
<text font-size="31" transform="translate(1710.6 1935.4) scale(1 1)">Pimecrolimus 20<tspan dx="0.8" font-size="33" style='font-family:"Liberation Serif", serif'>μ</tspan><tspan dx="1">M</tspan></text>
<line x1="1646.8" y1="1979.1" x2="1687.2" y2="1979.1" stroke="#00c000" stroke-width="4" stroke-linecap="round"/>
<circle cx="1666.8" cy="1979.1" r="11.3" fill="#00c000"/>
<text font-size="31" transform="translate(1710.6 1990.5) scale(1 1)">Pimecrolimus 10<tspan dx="0.8" font-size="33" style='font-family:"Liberation Serif", serif'>μ</tspan><tspan dx="1">M</tspan></text>
<line x1="1646.8" y1="2034.2" x2="1687.2" y2="2034.2" stroke="#ff8000" stroke-width="4" stroke-linecap="round"/>
<circle cx="1666.8" cy="2034.2" r="11.3" fill="#ff8000"/>
<text font-size="31" transform="translate(1710.6 2045.6) scale(1 1)">Pimecrolimus 5<tspan dx="0.8" font-size="33" style='font-family:"Liberation Serif", serif'>μ</tspan><tspan dx="1">M</tspan></text>
<line x1="1646.8" y1="2089.3" x2="1687.2" y2="2089.3" stroke="#b010e6" stroke-width="4" stroke-linecap="round"/>
<circle cx="1666.8" cy="2089.3" r="11.3" fill="#b010e6"/>
<text font-size="31" transform="translate(1710.6 2100.7) scale(1 1)">Pimecrolimus 2.5<tspan dx="0.8" font-size="33" style='font-family:"Liberation Serif", serif'>μ</tspan><tspan dx="1">M</tspan></text>
<line x1="1646.8" y1="2142.9" x2="1687.2" y2="2142.9" stroke="#8c7d3a" stroke-width="4" stroke-linecap="round"/>
<circle cx="1666.8" cy="2142.9" r="11.3" fill="#8c7d3a"/>
<text font-size="31" transform="translate(1710.6 2154.3) scale(1 1)">Serum</text>
</g>
</svg>
</body>
</html>
